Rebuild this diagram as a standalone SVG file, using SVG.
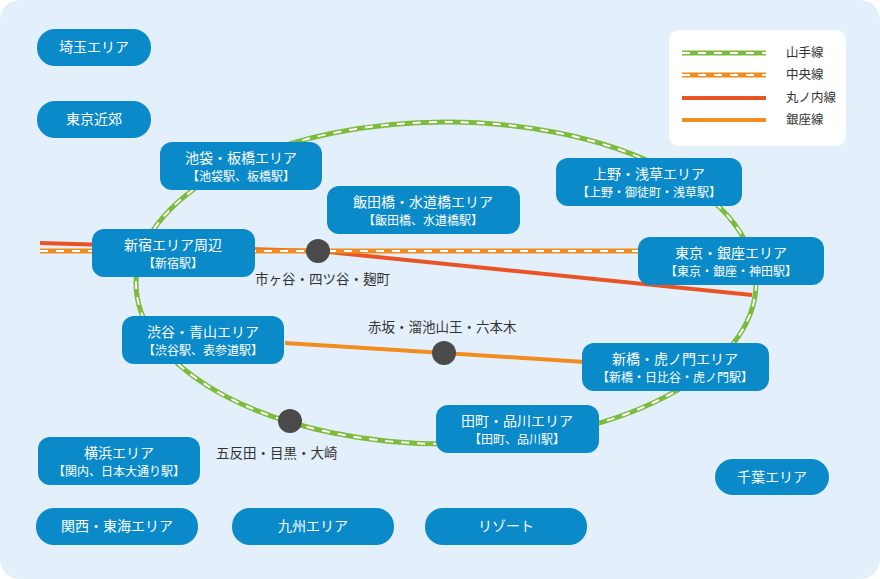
<svg xmlns="http://www.w3.org/2000/svg" width="880" height="579" viewBox="0 0 880 579">
<style>
.n{fill:#0a8ac9}
.t{font-family:"Noto Sans CJK JP","Noto Sans",sans-serif;fill:#fff;text-anchor:middle}
.a{font-size:14px}
.b{font-size:12px}
.s{font-family:"Noto Sans CJK JP","Noto Sans",sans-serif;fill:#333;font-size:13.5px}
.g{font-family:"Noto Sans CJK JP","Noto Sans",sans-serif;fill:#333;font-size:12.5px}
</style>
<rect x="0" y="0" width="880" height="579" rx="20" fill="#e3f0fb"/>
<g id="connectors" fill="none">
<ellipse cx="446" cy="283" rx="310" ry="161" stroke="#7dbb3c" stroke-width="5"/>
<ellipse cx="446" cy="283" rx="310" ry="161" stroke="#fff" stroke-width="2" stroke-dasharray="8 8"/>
<polyline points="40,243 318,251 752,295" stroke="#ea5424" stroke-width="4"/>
<line x1="40" y1="251" x2="640" y2="251" stroke="#f18d1e" stroke-width="5"/>
<line x1="40" y1="251" x2="640" y2="251" stroke="#fff" stroke-width="2" stroke-dasharray="8 8"/>
<polyline points="285,343 444,353 585,362" stroke="#f18d1e" stroke-width="4"/>
<circle cx="318" cy="251" r="12" fill="#4a4a4a"/>
<circle cx="444" cy="353" r="12" fill="#4a4a4a"/>
<circle cx="290" cy="421" r="12" fill="#4a4a4a"/>
</g>
<text class="s" x="255" y="284">市ヶ谷・四ツ谷・麹町</text>
<text class="s" x="368" y="332">赤坂・溜池山王・六本木</text>
<text class="s" x="216" y="458">五反田・目黒・大崎</text>
<g id="legend">
<rect x="669" y="30" width="177" height="116" rx="10" fill="#fff"/>
<line x1="682" y1="53" x2="766" y2="53" stroke="#7dbb3c" stroke-width="5"/>
<line x1="682" y1="53" x2="766" y2="53" stroke="#fff" stroke-width="2" stroke-dasharray="8 8"/>
<line x1="682" y1="75" x2="766" y2="75" stroke="#f18d1e" stroke-width="5"/>
<line x1="682" y1="75" x2="766" y2="75" stroke="#fff" stroke-width="2" stroke-dasharray="8 8"/>
<line x1="682" y1="98" x2="766" y2="98" stroke="#ea5424" stroke-width="4"/>
<line x1="682" y1="120" x2="766" y2="120" stroke="#f18d1e" stroke-width="4"/>
<text class="g" x="786" y="57">山手線</text>
<text class="g" x="786" y="79">中央線</text>
<text class="g" x="786" y="102">丸ノ内線</text>
<text class="g" x="786" y="124">銀座線</text>
</g>
<g id="saitama"><rect class="n" x="37" y="29" width="114" height="37" rx="18"/><text class="t a" x="94" y="52">埼玉エリア</text></g>
<g id="kinko"><rect class="n" x="37" y="101" width="114" height="37" rx="18"/><text class="t a" x="94" y="124">東京近郊</text></g>
<g id="ikebukuro"><rect class="n" x="160" y="142" width="162" height="48" rx="12"/><text class="t a" x="241" y="163">池袋・板橋エリア</text><text class="t b" x="241" y="181">【池袋駅、板橋駅】</text></g>
<g id="iidabashi"><rect class="n" x="327" y="186" width="193" height="48" rx="12"/><text class="t a" x="423" y="207">飯田橋・水道橋エリア</text><text class="t b" x="423" y="225">【飯田橋、水道橋駅】</text></g>
<g id="ueno"><rect class="n" x="556" y="158" width="186" height="48" rx="12"/><text class="t a" x="649" y="179">上野・浅草エリア</text><text class="t b" x="649" y="197">【上野・御徒町・浅草駅】</text></g>
<g id="shinjuku"><rect class="n" x="92" y="229" width="163" height="48" rx="12"/><text class="t a" x="173" y="250">新宿エリア周辺</text><text class="t b" x="173" y="268">【新宿駅】</text></g>
<g id="tokyo"><rect class="n" x="638" y="237" width="186" height="48" rx="12"/><text class="t a" x="731" y="258">東京・銀座エリア</text><text class="t b" x="731" y="276">【東京・銀座・神田駅】</text></g>
<g id="shibuya"><rect class="n" x="122" y="316" width="162" height="48" rx="12"/><text class="t a" x="203" y="337">渋谷・青山エリア</text><text class="t b" x="203" y="355">【渋谷駅、表参道駅】</text></g>
<g id="shinbashi"><rect class="n" x="582" y="343" width="187" height="48" rx="12"/><text class="t a" x="675" y="364">新橋・虎ノ門エリア</text><text class="t b" x="675" y="382">【新橋・日比谷・虎ノ門駅】</text></g>
<g id="tamachi"><rect class="n" x="436" y="405" width="163" height="48" rx="12"/><text class="t a" x="517" y="426">田町・品川エリア</text><text class="t b" x="517" y="444">【田町、品川駅】</text></g>
<g id="yokohama"><rect class="n" x="38" y="437" width="162" height="48" rx="12"/><text class="t a" x="119" y="458">横浜エリア</text><text class="t b" x="119" y="476">【関内、日本大通り駅】</text></g>
<g id="chiba"><rect class="n" x="715" y="459" width="114" height="36" rx="18"/><text class="t a" x="772" y="482">千葉エリア</text></g>
<g id="kansai"><rect class="n" x="36" y="508" width="162" height="37" rx="18"/><text class="t a" x="117" y="531">関西・東海エリア</text></g>
<g id="kyushu"><rect class="n" x="232" y="508" width="162" height="37" rx="18"/><text class="t a" x="313" y="531">九州エリア</text></g>
<g id="resort"><rect class="n" x="425" y="508" width="162" height="37" rx="18"/><text class="t a" x="506" y="531">リゾート</text></g>
</svg>
